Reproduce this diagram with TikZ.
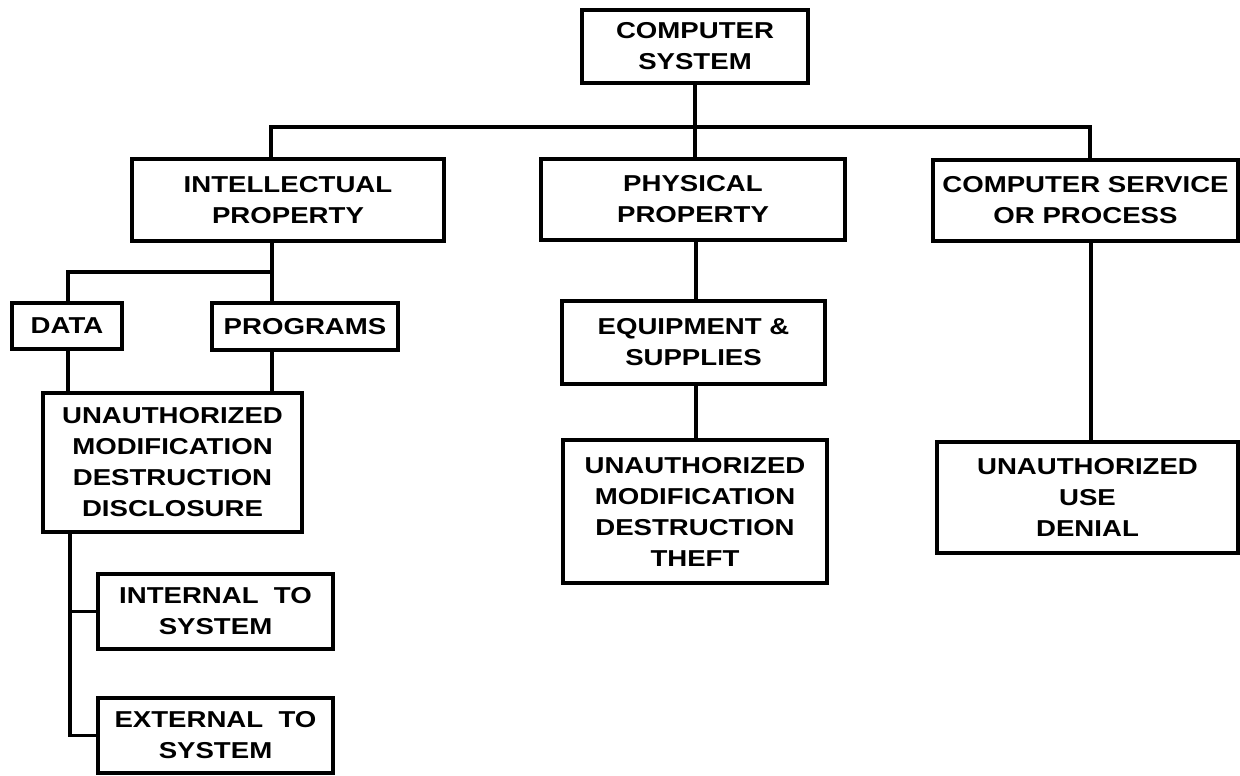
\documentclass[tikz,border=0pt]{standalone}
\usepackage{fontspec}
\newfontfamily\diafont[FakeStretch=1.2]{Liberation Sans}
\begin{document}
\begin{tikzpicture}[x=1pt,y=-1pt,
  box/.style={draw=black, line width=3.2pt, rectangle, inner sep=0pt, align=center,
    font=\diafont\bfseries\fontsize{23}{31}\selectfont, text=black},
  bigbox/.style={box, line width=4.6pt},
  conn/.style={draw=black, line width=3.4pt, line cap=rect}]
\useasboundingbox[fill=white] (0,0) rectangle (1240,776);

% level 0
\node[box, minimum width=226pt, minimum height=73pt] (cs) at (695,46.5) {COMPUTER\\SYSTEM};
% level 1
\node[bigbox, minimum width=312pt, minimum height=82pt] (ip) at (288,200) {INTELLECTUAL\\PROPERTY};
\node[bigbox, minimum width=304pt, minimum height=81pt] (pp) at (693,199.5) {PHYSICAL\\PROPERTY};
\node[bigbox, minimum width=305pt, minimum height=81pt] (sp) at (1085.5,200.5) {COMPUTER SERVICE\\OR PROCESS};
% intellectual branch
\node[box, minimum width=110pt, minimum height=46pt] (data) at (67,326) {DATA};
\node[box, minimum width=186pt, minimum height=47pt] (prog) at (305,326.5) {PROGRAMS};
\node[box, minimum width=259pt, minimum height=139pt] (ua1) at (172.5,462.5) {UNAUTHORIZED\\MODIFICATION\\DESTRUCTION\\DISCLOSURE};
\node[box, minimum width=235pt, minimum height=75pt] (int) at (215.5,611.5) {INTERNAL\ \ TO\\SYSTEM};
\node[box, minimum width=235pt, minimum height=75pt] (ext) at (215.5,735.5) {EXTERNAL\ \ TO\\SYSTEM};
% physical branch
\node[box, minimum width=263pt, minimum height=83pt] (eq) at (693.5,342.5) {EQUIPMENT \&\\SUPPLIES};
\node[box, minimum width=264pt, minimum height=143pt] (ua2) at (695,511.5) {UNAUTHORIZED\\MODIFICATION\\DESTRUCTION\\THEFT};
% service branch
\node[box, minimum width=301pt, minimum height=111pt] (ua3) at (1087.5,497.5) {UNAUTHORIZED\\USE\\DENIAL};

% connectors
\coordinate (bl) at (271,127);
\coordinate (br) at (1090,127);
\coordinate (cx) at (695,127);
\draw[conn] (ip.north -| bl) -- (bl) -- (br) -- (br |- sp.north);
\draw[conn] (cs.south -| cx) -- (cx |- pp.north);

\coordinate (ib) at (272,272);
\coordinate (db) at (68,272);
\draw[conn] (ip.south -| ib) -- (ib |- prog.north);
\draw[conn] (ib) -- (db) -- (db |- data.north);
\draw[conn] (prog.south -| ib) -- (ib |- ua1.north);
\draw[conn] (data.south -| db) -- (db |- ua1.north);

\coordinate (lx) at (70,0);
\draw[conn] (ua1.south -| lx) -- (lx |- ext.west) -- (ext.west);
\draw[conn] (lx |- int.west) -- (int.west);

\coordinate (px) at (696,0);
\draw[conn] (pp.south -| px) -- (px |- eq.north);
\draw[conn] (eq.south -| px) -- (px |- ua2.north);

\coordinate (sx) at (1091,0);
\draw[conn] (sp.south -| sx) -- (sx |- ua3.north);
\end{tikzpicture}
\end{document}
